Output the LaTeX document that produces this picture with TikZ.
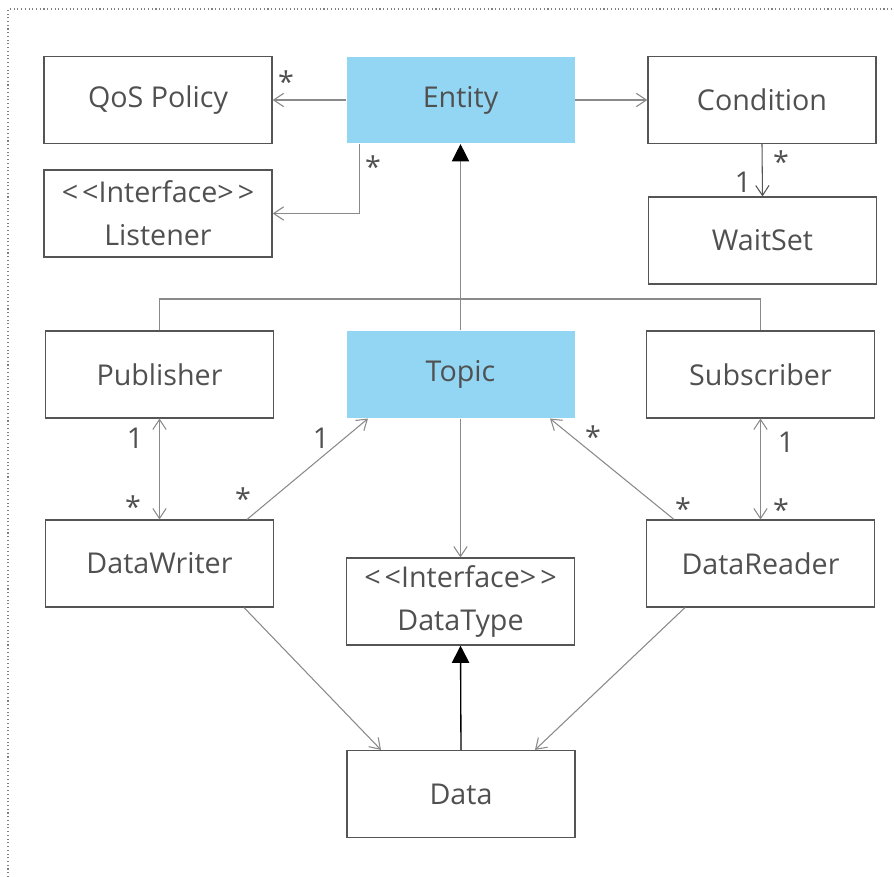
\documentclass[tikz,border=0pt]{standalone}
\usepackage{fontspec}
\setmainfont{Open Sans}
\usetikzlibrary{arrows.meta,calc}
\definecolor{txt}{HTML}{505050}
\definecolor{bord}{HTML}{555555}
\definecolor{conncol}{HTML}{8A8A8A}
\definecolor{blue}{HTML}{92D6F4}
\newcommand{\ltlt}{<\kern3pt<}
\newcommand{\gtgt}{>\kern3pt>}
\begin{document}
\begin{tikzpicture}[x=0.75pt,y=-0.75pt,
  box/.style={draw=bord,line width=1.1pt,minimum width=171pt,minimum height=65pt,inner sep=0pt,
    font=\fontsize{21.5}{32}\selectfont,text=txt,align=center},
  hl/.style={box,draw=none,fill=blue},
  conn/.style={draw=conncol,line width=0.8pt},
  open/.style={-{Straight Barb[length=7.5pt,width=10pt,line width=0.8pt]}},
  openboth/.style={{Straight Barb[length=7.5pt,width=10pt,line width=0.8pt]}-{Straight Barb[length=7.5pt,width=10pt,line width=0.8pt]}},
  lbl/.style={font=\fontsize{21.5}{26}\selectfont,text=txt,inner sep=0pt}]
\useasboundingbox (0,0) rectangle (894,877);
\draw[gray,dotted,line width=0.8pt] (8,877) -- (8,9) -- (894,9);

\node[box] (qos) at (158,100) {QoS Policy};
\node[hl] (entity) at (460.5,100) {Entity};
\node[box] (cond) at (762,100) {Condition};
\node[box] (listener) at (158,213.5) {\ltlt Interface\gtgt\\Listener};
\node[box] (waitset) at (762.5,240.5) {WaitSet};
\node[box] (pub) at (159.5,374.5) {Publisher};
\node[hl] (topic) at (460.5,374.5) {Topic};
\node[box] (sub) at (760.5,374.5) {Subscriber};
\node[box] (dw) at (159.5,563.5) {DataWriter};
\node[box] (dt) at (460.5,601.5) {\ltlt Interface\gtgt\\DataType};
\node[box] (dr) at (760.5,563.5) {DataReader};
\node[box] (data) at (461,794) {Data};

\coordinate (bus) at (460.5,299);

% Entity associations
\draw[conn,open] (entity.west) -- (qos.east);
\draw[conn,open] ($(entity.south west)+(14,0)$) |- (listener.east);
\draw[conn,open] (entity.east) -- (cond.west);
\draw[conn,open,draw=bord] (cond.south) -- (waitset.north);

% inheritance from Entity
\draw[conn] (pub.north) |- (bus) -| (sub.north);
\draw[conn,-{Triangle[length=13pt,width=13pt,fill=black,color=black]}] (topic.north) -- (entity.south);

% publisher / subscriber side
\draw[conn,openboth] (pub.south) -- (dw.north);
\draw[conn,open] ($(dw.north)+(87.5,0)$) -- ($(topic.south)+(-92.5,0)$);
\draw[conn,open] ($(dr.north)+(-86.5,0)$) -- ($(topic.south)+(89.5,0)$);
\draw[conn,openboth] (sub.south) -- (dr.north);
\draw[conn,open] (topic.south) -- (dt.north);
\draw[conn,open] ($(dw.south)+(84.5,0)$) -- ($(data.north)+(-80,0)$);
\draw[conn,open] ($(dr.south)+(-75.5,0)$) -- ($(data.north)+(74,0)$);
\draw[black,line width=1pt,-{Triangle[length=13pt,width=13pt]}] (data.north) -- (dt.south);

% multiplicities
\node[lbl] (m1) at (286,82) {*};
\node[lbl] (m2) at (373,167) {*};
\node[lbl] (m3) at (781,162) {*};
\node[lbl] (m4) at (743,182) {1};
\node[lbl] (m5) at (135,438) {1};
\node[lbl] (m6) at (133,507) {*};
\node[lbl] (m7) at (321,438) {1};
\node[lbl] (m8) at (243,499) {*};
\node[lbl] (m9) at (593,437) {*};
\node[lbl] (m10) at (683,509) {*};
\node[lbl] (m11) at (786,442) {1};
\node[lbl] (m12) at (781,510) {*};
\end{tikzpicture}
\end{document}
